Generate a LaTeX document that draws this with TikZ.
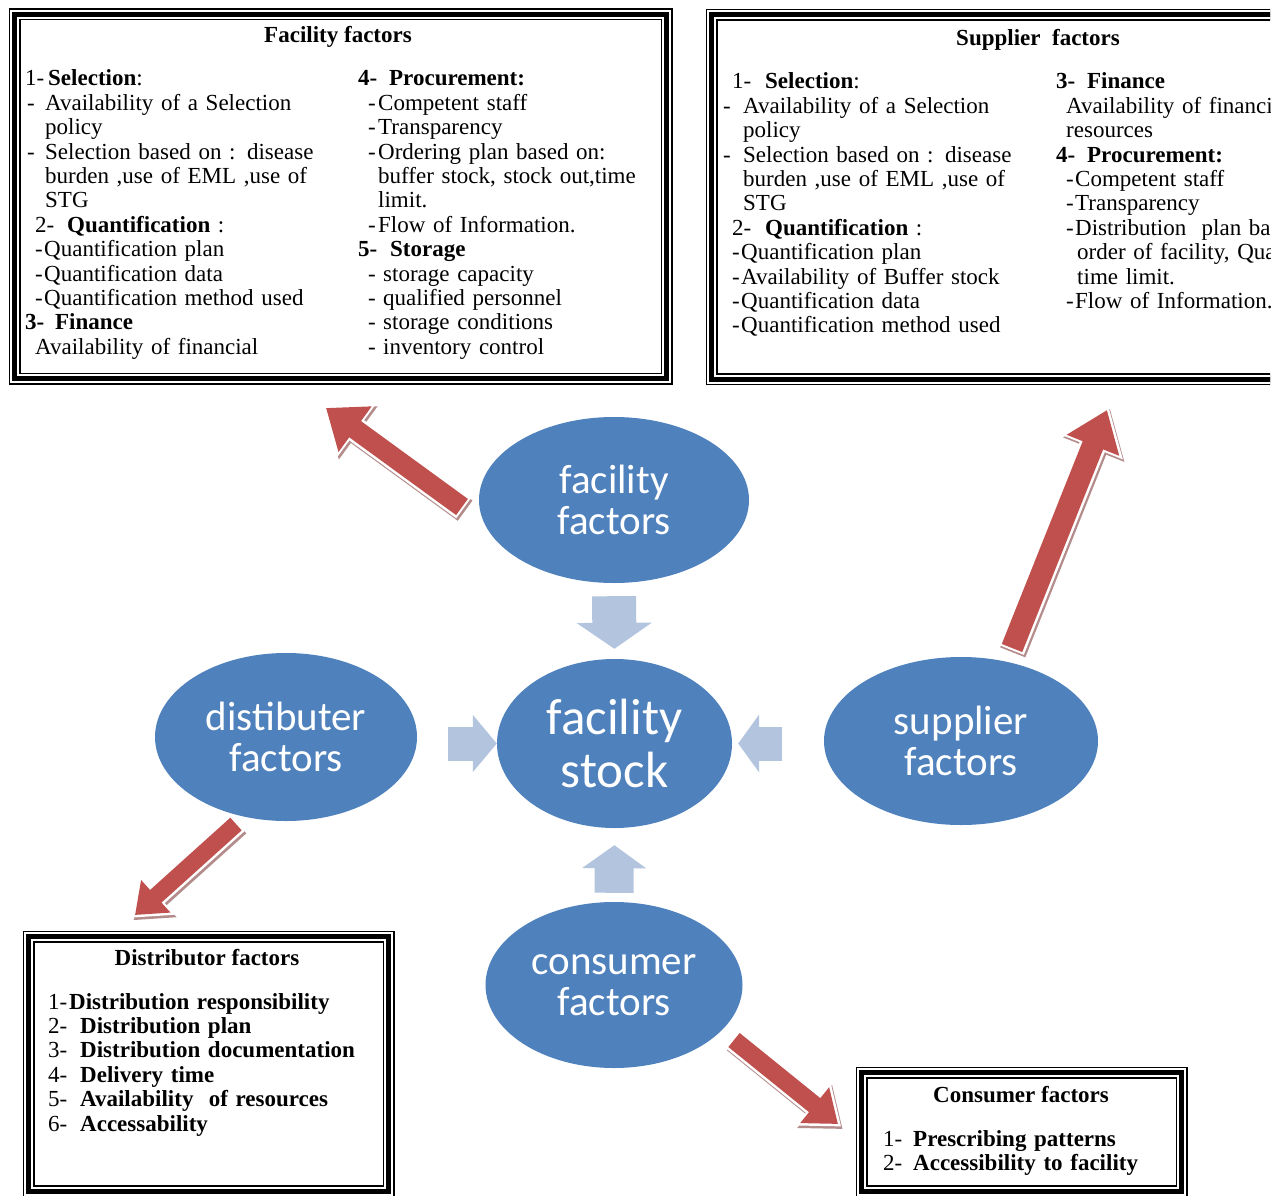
\documentclass[tikz,border=0pt]{standalone}
\usepackage{fontspec}
\setmainfont{Liberation Serif}
\newfontfamily\blobfont{Carlito}
\usetikzlibrary{shapes.geometric,arrows.meta}

\definecolor{blobblue}{RGB}{79,129,189}
\definecolor{flowblue}{RGB}{178,196,222}
\definecolor{arrowred}{RGB}{192,80,77}
\definecolor{arrowshade}{RGB}{180,140,140}

\newcommand{\boxfont}{\fontsize{23}{24.4}\selectfont}

\tikzset{
  blob/.style={ellipse, fill=blobblue, text=white, inner sep=0pt, align=center,
    font=\blobfont\fontsize{41}{41}\selectfont},
  factorbox/.style={rectangle, inner sep=0pt, draw=black, line width=12pt,
    postaction={draw=white, line width=9pt},
    postaction={draw=black, line width=5pt}},
  boxtitle/.style={anchor=base, inner sep=0pt, font=\boxfont\bfseries},
  coltext/.style={anchor=base west, align=left, inner sep=0pt, font=\boxfont},
  flow/.style={draw=flowblue, line width=34pt, -{Triangle[length=24pt,width=56pt]}},
  redarrow/.style n args={3}{draw=arrowred, line width=#1, -{Triangle[length=#2,width=#3]},
    preaction={draw=arrowshade, line width=#1+5pt, -{Triangle[length=#2+6pt,width=#3+9pt]},
      shorten >=-4pt, shorten <=-2pt, transform canvas={xshift=1.5pt,yshift=-2.5pt}},
    preaction={draw=white, line width=#1+5pt, -{Triangle[length=#2+6pt,width=#3+9pt]},
      shorten >=-4pt, shorten <=-2pt}}
}

\begin{document}
\begin{tikzpicture}[x=1pt, y=-1pt]

  \useasboundingbox (0,0) rectangle (1282,1196);

  % facility factors box
  \node[factorbox, minimum width=652pt, minimum height=364pt] (facbox) at (340.5,196.5) {};
  \node[boxtitle] (factitle) at (338,43) {Facility factors};
  \node[coltext, text width=330pt] (facleft) at (25,86) {%
    \makebox[23pt][l]{1-}\textbf{Selection}:\\
    \hspace*{2pt}\makebox[18pt][l]{-}Availability of a Selection\\
    \hspace*{20pt}policy\\
    \hspace*{2pt}\makebox[18pt][l]{-}Selection based on : disease\\
    \hspace*{20pt}burden ,use of EML ,use of\\
    \hspace*{20pt}STG\\
    \hspace*{10pt}\makebox[32pt][l]{2-}\textbf{Quantification} :\\
    \hspace*{10pt}\makebox[9pt][l]{-}Quantification plan\\
    \hspace*{10pt}\makebox[9pt][l]{-}Quantification data\\
    \hspace*{10pt}\makebox[9pt][l]{-}Quantification method used\\
    \textbf{\makebox[30pt][l]{3-}Finance}\\
    \hspace*{10pt}Availability of financial};
  \node[coltext, text width=300pt] (facright) at (358,86) {%
    \textbf{\makebox[31pt][l]{4-}Procurement:}\\
    \hspace*{10pt}\makebox[10pt][l]{-}Competent staff\\
    \hspace*{10pt}\makebox[10pt][l]{-}Transparency\\
    \hspace*{10pt}\makebox[10pt][l]{-}Ordering plan based on:\\
    \hspace*{20pt}buffer stock, stock out,time\\
    \hspace*{20pt}limit.\\
    \hspace*{10pt}\makebox[10pt][l]{-}Flow of Information.\\
    \textbf{\makebox[32pt][l]{5-}Storage}\\
    \hspace*{10pt}\makebox[15pt][l]{-}storage capacity\\
    \hspace*{10pt}\makebox[15pt][l]{-}qualified personnel\\
    \hspace*{10pt}\makebox[15pt][l]{-}storage conditions\\
    \hspace*{10pt}\makebox[15pt][l]{-}inventory control};

  % supplier factors box, cut at the right edge
  \begin{scope}
    \clip (0,0) rectangle (1270,1196);
    \node[factorbox, minimum width=578.5pt, minimum height=364pt] (supbox) at (1000.75,197) {};
    \node[boxtitle] (suptitle) at (1038,46) {Supplier\ \ factors};
    \node[coltext, text width=330pt] (supleft) at (723,89) {%
      \hspace*{9pt}\makebox[33pt][l]{1-}\textbf{Selection}:\\
      \makebox[20pt][l]{-}Availability of a Selection\\
      \hspace*{20pt}policy\\
      \makebox[20pt][l]{-}Selection based on : disease\\
      \hspace*{20pt}burden ,use of EML ,use of\\
      \hspace*{20pt}STG\\
      \hspace*{9pt}\makebox[33pt][l]{2-}\textbf{Quantification} :\\
      \hspace*{9pt}\makebox[9pt][l]{-}Quantification plan\\
      \hspace*{9pt}\makebox[9pt][l]{-}Availability of Buffer stock\\
      \hspace*{9pt}\makebox[9pt][l]{-}Quantification data\\
      \hspace*{9pt}\makebox[9pt][l]{-}Quantification method used};
    \node[coltext, text width=400pt] (supright) at (1056,89) {%
      \textbf{\makebox[31pt][l]{3-}Finance}\\
      \hspace*{10pt}Availability of financial\\
      \hspace*{10pt}resources\\
      \textbf{\makebox[31pt][l]{4-}Procurement:}\\
      \hspace*{10pt}\makebox[9pt][l]{-}Competent staff\\
      \hspace*{10pt}\makebox[9pt][l]{-}Transparency\\
      \hspace*{10pt}\makebox[9pt][l]{-}Distribution\ \ plan based on\\
      \hspace*{21pt}order of facility, Quantity,\\
      \hspace*{21pt}time limit.\\
      \hspace*{10pt}\makebox[9pt][l]{-}Flow of Information.};
  \end{scope}

  % distributor factors box
  \node[factorbox, minimum width=360pt, minimum height=254.5pt] (disbox) at (208.5,1063.75) {};
  \node[boxtitle] (distitle) at (207,965) {Distributor factors};
  \node[coltext, text width=340pt] (dislist) at (48,1009) {%
    \makebox[21pt][l]{1-}\textbf{Distribution responsibility}\\
    \makebox[32pt][l]{2-}\textbf{Distribution plan}\\
    \makebox[32pt][l]{3-}\textbf{Distribution documentation}\\
    \makebox[32pt][l]{4-}\textbf{Delivery time}\\
    \makebox[32pt][l]{5-}\textbf{Availability\ \ of resources}\\
    \makebox[32pt][l]{6-}\textbf{Accessability}};

  % consumer factors box
  \node[factorbox, minimum width=320pt, minimum height=118.5pt] (conbox) at (1021.5,1131.75) {};
  \node[boxtitle] (contitle) at (1021,1102) {Consumer factors};
  \node[coltext, text width=290pt] (conlist) at (883,1146) {%
    \makebox[30pt][l]{1-}\textbf{Prescribing patterns}\\
    \makebox[30pt][l]{2-}\textbf{Accessibility to facility}};

  % ellipses
  \node[blob, minimum width=270pt, minimum height=166pt] (ff) at (614,500) {facility\\factors};
  \node[blob, minimum width=235pt, minimum height=169pt,
    font=\blobfont\fontsize{51}{53}\selectfont] (fs) at (614.5,743.5) {facility\\stock};
  \node[blob, minimum width=262pt, minimum height=168pt] (df) at (286,737) {distibuter\\factors};
  \node[blob, minimum width=274pt, minimum height=168pt] (sf) at (961,741) {supplier\\factors};
  \node[blob, minimum width=257pt, minimum height=166pt] (cf) at (614,985) {consumer\\factors};

  % arrows into the stock
  \draw[flow, line width=44pt, -{Triangle[length=26pt,width=74pt]}, shorten <=13pt, shorten >=10pt]
    (ff.south) -- (fs.north);
  \draw[flow, shorten <=31pt] (df.east |- fs.west) -- (fs.west);
  \draw[flow, -{Triangle[length=21pt,width=57pt]}, shorten <=42pt, shorten >=6pt]
    (sf.west |- fs.east) -- (fs.east);
  \draw[flow, line width=39pt, -{Triangle[length=23pt,width=63pt]}, shorten <=9pt, shorten >=17pt]
    (cf.north) -- (fs.south);

  % arrows out to the boxes
  \coordinate (ffout) at (462,507);
  \coordinate (facin) at (326,408);
  \coordinate (sfout) at (1012,648);
  \coordinate (supin) at (1107,410);
  \coordinate (dfout) at (236,824);
  \coordinate (disin) at (135,915);
  \coordinate (cfout) at (734,1040);
  \coordinate (conin) at (838,1124);

  \draw[redarrow={20pt}{36pt}{54pt}] (ffout) -- (facin);
  \draw[redarrow={22pt}{38pt}{54pt}] (sfout) -- (supin);
  \draw[redarrow={17pt}{28pt}{42pt}] (dfout) -- (disin);
  \draw[redarrow={18pt}{30pt}{44pt}] (cfout) -- (conin);

\end{tikzpicture}
\end{document}
